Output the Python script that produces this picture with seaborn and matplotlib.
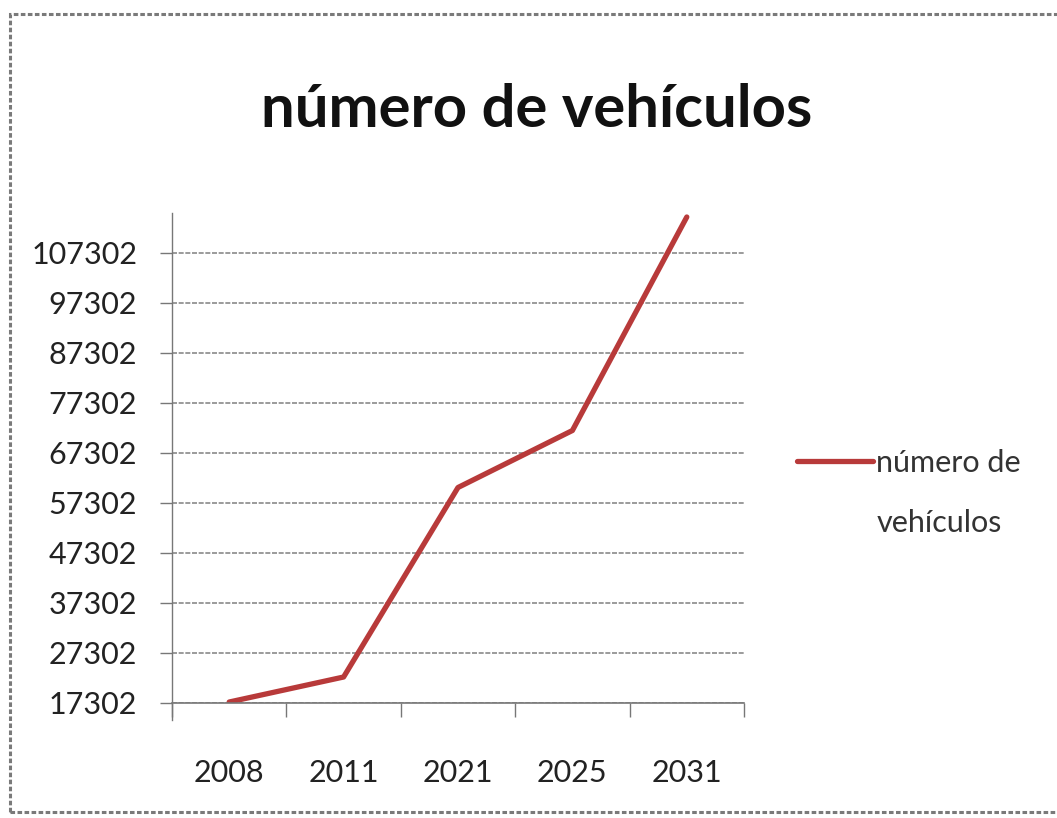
import matplotlib
matplotlib.use("Agg")
import matplotlib.pyplot as plt
from matplotlib.patches import Rectangle
import seaborn as sns
import pandas as pd

years = ["2008", "2011", "2021", "2025", "2031"]
vehicles = [17500, 22500, 60400, 71800, 114500]
y_ticks = [17302, 27302, 37302, 47302, 57302, 67302, 77302, 87302, 97302, 107302]
series_name = ["número de", "vehículos"]
title = "número de vehículos"

sns.set_theme(style="white")
plt.rcParams["font.family"] = ["Lato", "DejaVu Sans"]

fig = plt.figure(figsize=(10.57, 8.18), dpi=100)
fig.patch.set_facecolor("white")

# outer chart frame
fig.add_artist(Rectangle((10 / 1057, 6 / 818), 1.2, (818 - 20) / 818,
                         transform=fig.transFigure, fill=False,
                         edgecolor="#7a7a7a", linewidth=2.2, linestyle=(0, (1.5, 0.8))))

ax = fig.add_axes([172 / 1057, 115 / 818, 572 / 1057, 490 / 818])
df = pd.DataFrame({"year": years, "value": vehicles})
sns.lineplot(data=df, x="year", y="value", ax=ax, color="#B83A3A",
             linewidth=3.8, label=series_name[0], sort=False)

ax.set_xlim(-0.5, len(years) - 0.5)
ax.set_ylim(y_ticks[0], 115300)
ax.set_yticks(y_ticks)
ax.set_yticklabels([str(t) for t in y_ticks])
ax.set_xlabel("")
ax.set_ylabel("")

# category boundary ticks on the x axis, labels centred on categories
ax.set_xticks([i - 0.5 for i in range(len(years) + 1)], minor=False)
ax.set_xticklabels([""] * (len(years) + 1))
ax.set_xticks(range(len(years)), minor=True)
ax.set_xticklabels(years, minor=True)
ax.tick_params(axis="x", which="major", bottom=True, direction="out", length=10,
               width=1, color="#777777")
ax.tick_params(axis="x", which="minor", bottom=True, length=0, pad=40,
               labelsize=22, labelcolor="#222222")
ax.tick_params(axis="y", left=True, direction="out", length=9, width=1, color="#777777",
               labelsize=22, labelcolor="#222222", pad=16)

ax.yaxis.grid(True, color="#8a8a8a", linewidth=1.2, linestyle=(0, (3, 1)))
ax.xaxis.grid(False)
for side in ["top", "right"]:
    ax.spines[side].set_visible(False)
ax.spines["left"].set_color("#777777")
ax.spines["left"].set_linewidth(1)
ax.spines["left"].set_bounds(y_ticks[0] - 3400, 115300)
ax.spines["bottom"].set_color("#777777")
ax.spines["bottom"].set_linewidth(1.2)
ax.set_axisbelow(True)

fig.text(537 / 1057, 1 - 110 / 818, title, ha="center", va="center",
         fontsize=43, fontweight="bold", color="#111111")

leg = ax.legend(loc="center left", bbox_to_anchor=(797 / 1057, 1 - 463 / 818),
                bbox_transform=fig.transFigure, frameon=False, fontsize=22,
                handlelength=2.5, handletextpad=0.1, borderaxespad=0, borderpad=0,
                labelcolor="#333333")
for line in leg.get_lines():
    line.set_linewidth(3.8)
# second line of the series name, set below the legend entry
fig.draw_without_rendering()
first_label = leg.get_texts()[0].get_window_extent()
fig.text(first_label.x0 / fig.bbox.width, 1 - 523 / 818, series_name[1],
         ha="left", va="center", fontsize=22, color="#333333")

fig.savefig("out.png", dpi=100, facecolor="white")
